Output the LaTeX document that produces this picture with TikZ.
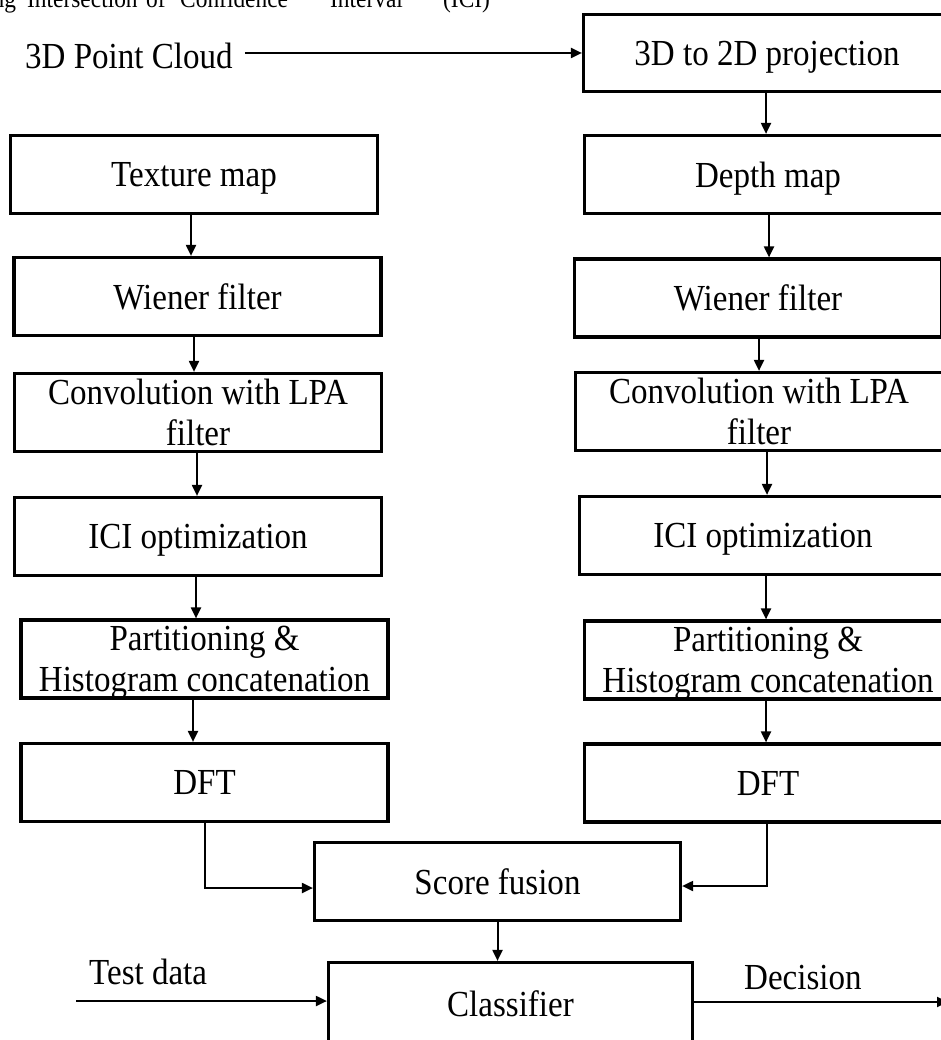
\documentclass[tikz,border=0pt]{standalone}
\usepackage{fontspec}
\setmainfont{Liberation Serif}[FakeStretch=0.9]
\usetikzlibrary{arrows.meta,calc}
\begin{document}
\begin{tikzpicture}[x=1pt,y=-1pt,
  box/.style={draw, line width=3.2pt, minimum width=367pt, minimum height=78pt, inner sep=0pt, align=center, text depth=0pt, font=\fontsize{36.7}{41}\selectfont},
  lbl/.style={inner sep=0pt, anchor=base west, font=\fontsize{36.7}{41}\selectfont},
  toptxt/.style={inner sep=0pt, anchor=base west, font=\fontsize{26}{30}\selectfont},
  arr/.style={line width=2pt, -{Triangle[length=11pt,width=10pt]}}]
\useasboundingbox (0,0) rectangle (941,1040);
\clip (0,0) rectangle (941,1040);

% caption line at the top, cut off by the picture's edge
\node[toptxt] (t1) at (-14,8) {ing};
\node[toptxt] (t2) at (27,8) {Intersection};
\node[toptxt] (t3) at (146,8) {of};
\node[toptxt] (t4) at (180,8) {Confidence};
\node[toptxt] (t5) at (330,8) {Interval};
\node[toptxt] (t6) at (443,8) {(ICI)};

% input
\node[lbl, inner xsep=12pt] (pc) at (13,69) {3D Point Cloud};

% left column
\node[box] (tex) at (194,174.5) {Texture map};
\node[box] (wl) at (197.5,296.5) {Wiener filter};
\node[box] (cl) at (198,412.5) {Convolution with LPA\\filter};
\node[box] (il) at (198,536.5) {ICI optimization};
\node[box] (pl) at (204.5,659) {Partitioning \&\\Histogram concatenation};
\node[box] (dl) at (204.5,782.5) {DFT};

% right column
\node[box, minimum height=77pt] (proj) at (767,53) {3D to 2D projection};
\node[box] (dep) at (768,174.5) {Depth map};
\node[box] (wr) at (758,298) {Wiener filter};
\node[box] (cr) at (759,411.5) {Convolution with LPA\\filter};
\node[box] (ir) at (763,535.5) {ICI optimization};
\node[box] (pr) at (768,660) {Partitioning \&\\Histogram concatenation};
\node[box] (dr) at (768,783) {DFT};

% fusion and classification
\node[box, minimum width=366pt] (sf) at (497.5,881.5) {Score fusion};
\node[box, minimum width=364pt, minimum height=82pt] (cls) at (510.5,1003.5) {Classifier};

\node[lbl] (td) at (89,984) {Test data};
\node[lbl] (dec) at (744,989) {Decision};
\coordinate (tds) at (76,1001);
\coordinate (dece) at (948,1002);

% arrows
\draw[arr] (pc.east |- proj.west) -- (proj.west);

\coordinate (r1) at ($(proj.south)+(-1,0)$);
\draw[arr] (r1) -- (r1 |- dep.north);
\coordinate (r2) at ($(dep.south)+(1,0)$);
\draw[arr] (r2) -- (r2 |- wr.north);
\coordinate (r3) at ($(wr.south)+(1,0)$);
\draw[arr] (r3) -- (r3 |- cr.north);
\coordinate (r4) at ($(cr.south)+(8,0)$);
\draw[arr] (r4) -- (r4 |- ir.north);
\coordinate (r5) at ($(ir.south)+(3,0)$);
\draw[arr] (r5) -- (r5 |- pr.north);
\coordinate (r6) at ($(pr.south)+(-2,0)$);
\draw[arr] (r6) -- (r6 |- dr.north);

\coordinate (l1) at ($(tex.south)+(-3,0)$);
\draw[arr] (l1) -- (l1 |- wl.north);
\coordinate (l2) at ($(wl.south)+(-3.5,0)$);
\draw[arr] (l2) -- (l2 |- cl.north);
\coordinate (l3) at ($(cl.south)+(-1,0)$);
\draw[arr] (l3) -- (l3 |- il.north);
\coordinate (l4) at ($(il.south)+(-2,0)$);
\draw[arr] (l4) -- (l4 |- pl.north);
\coordinate (l5) at ($(pl.south)+(-11.5,0)$);
\draw[arr] (l5) -- (l5 |- dl.north);

\coordinate (sfl) at ($(sf.west)+(0,6.5)$);
\draw[arr] (dl.south) |- (sfl);
\coordinate (sfr) at ($(sf.east)+(0,4.5)$);
\coordinate (d2) at ($(dr.south)+(-1,0)$);
\draw[arr] (d2) |- (sfr);

\draw[arr] (sf.south) -- (sf.south |- cls.north);
\draw[arr] (tds) -- (tds -| cls.west);
\draw[arr] (cls.east |- dece) -- (dece);
\end{tikzpicture}
\end{document}
